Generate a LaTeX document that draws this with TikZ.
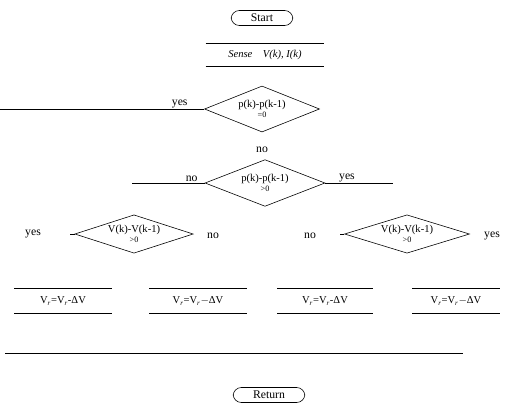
\documentclass[tikz,border=0pt]{standalone}
\usepackage{fontspec}
\setmainfont{Liberation Serif}
\usepackage{tikz}
\usetikzlibrary{shapes.geometric}
\tikzset{
  termnode/.style={draw,rounded corners=7pt,minimum width=1.85cm,minimum height=0.45cm,inner sep=1pt,font=\normalsize},
  decnode/.style={draw,diamond,aspect=2.8,inner sep=0pt,align=center,font=\small},
  iotext/.style={inner sep=0pt,minimum height=0.66cm,font=\small},
  lbl/.style={font=\normalsize,inner sep=1pt}
}

\begin{document}
\begin{tikzpicture}[x=0.03cm,y=-0.03cm,line width=0.5pt]
        \useasboundingbox (0,0) rectangle (508,410);

        \node[termnode] (start) at (262,18) {Start};

        \node[iotext,minimum width=3.55cm] (sense) at (265,55) {\textit{Sense\quad V(k), I(k)}};
        \draw (sense.north west) -- (sense.north east)
              (sense.south west) -- (sense.south east);

        \node[decnode,minimum width=3.45cm,minimum height=1.38cm] (dp0) at (262,109)
          {p(k)-p(k-1)\\[-3pt]{\scriptsize =0}};
        \coordinate (dp0w) at (0,109);
        \draw (dp0.west) -- (dp0w) node[pos=0.12,above,lbl]{yes};
        \node[lbl] (dp0no) at (262,150) {no};

        \node[decnode,minimum width=3.6cm,minimum height=1.4cm] (dp) at (265,183)
          {p(k)-p(k-1)\\[-3pt]{\scriptsize >0}};
        \coordinate (dpw) at (132,183);
        \coordinate (dpe) at (393,183);
        \draw (dp.west) -- (dpw) node[pos=0.18,above,lbl]{no};
        \draw (dp.east) -- (dpe) node[pos=0.32,above,lbl]{yes};

        \node[decnode,minimum width=3.55cm,minimum height=1.15cm] (dvl) at (134,234)
          {V(k)-V(k-1)\\[-3pt]{\scriptsize >0}};
        \node[decnode,minimum width=3.75cm,minimum height=1.15cm] (dvr) at (407,234)
          {V(k)-V(k-1)\\[-3pt]{\scriptsize >0}};
        \coordinate (dvlw) at (70,234);
        \coordinate (dvre) at (474,234);
        \coordinate (dvrw) at (340,234);
        \draw (dvl.west) -- (dvlw);
        \draw (dvr.west) -- (dvrw);
        \node[lbl] (dvlyes) at (33,234) {yes};
        \node[lbl] (dvlno) at (213,236) {no};
        \node[lbl] (dvrno) at (310,236) {no};
        \node[lbl] (dvryes) at (492,236) {yes};

        % update boxes
        \foreach \nm/\cx/\w/\op in {ua/63/97/-,ub/198/97/$-$,uc/325/95/-,ud/456/87/$-$} {
          \node[iotext,minimum width=\w*0.03cm,minimum height=0.72cm] (\nm) at (\cx,301)
            {V\textsubscript{\textit{r}}=V\textsubscript{\textit{r}}\op ΔV};
          \draw (\nm.north west) -- (\nm.north east)
                (\nm.south west) -- (\nm.south east);
        }

        \coordinate (joinl) at (5,353);
        \coordinate (joinr) at (463,353);
        \draw (joinl) -- (joinr);

        \node[termnode,minimum width=2.15cm] (ret) at (269,395) {Return};
\end{tikzpicture}
\end{document}
